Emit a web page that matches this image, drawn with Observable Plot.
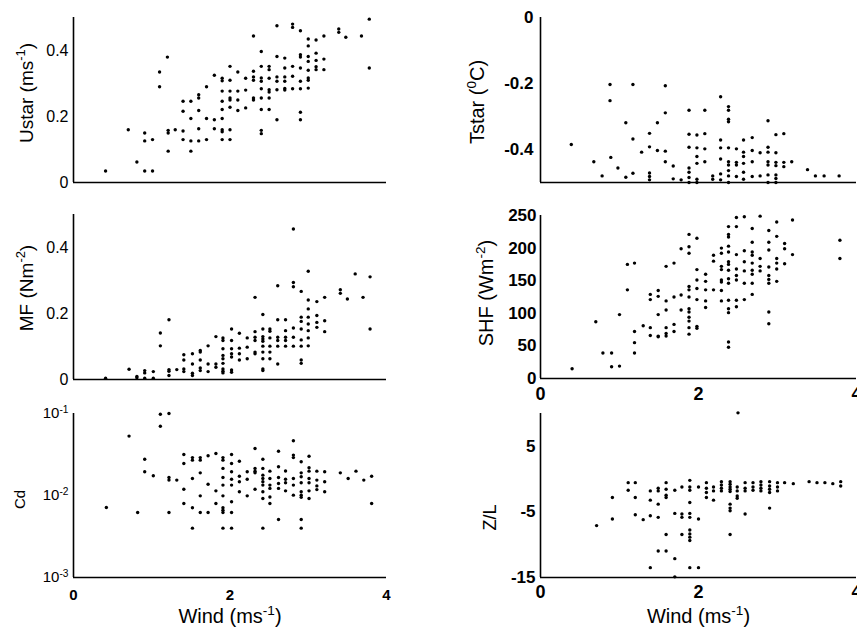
<!DOCTYPE html>
<html><head><meta charset="utf-8">
<script src="https://cdn.jsdelivr.net/npm/d3@7"></script>
<script src="https://cdn.jsdelivr.net/npm/@observablehq/plot@0.6"></script>
<style>
body{margin:0;background:#fff;}
#fig{position:relative;width:857px;height:633px;overflow:hidden;background:#fff;}
#fig svg{position:absolute;overflow:visible;}
</style></head><body><div id="fig"></div>
<script>
// ---- data: [wind (m/s), value] ----
const ustarPoints = [[0.41,0.035],[0.70,0.16],[0.81,0.062],[0.91,0.15],[0.91,0.126],[0.91,0.035],[1.01,0.13],[1.01,0.035],[1.10,0.335],[1.10,0.29],[1.20,0.38],[1.21,0.158],[1.21,0.15],[1.21,0.095],[1.30,0.16],[1.40,0.246],[1.40,0.216],[1.40,0.156],[1.40,0.13],[1.50,0.246],[1.50,0.194],[1.50,0.126],[1.50,0.095],[1.60,0.266],[1.60,0.256],[1.60,0.218],[1.60,0.163],[1.60,0.126],[1.70,0.29],[1.70,0.194],[1.70,0.13],[1.80,0.325],[1.80,0.19],[1.80,0.163],[1.90,0.316],[1.90,0.308],[1.90,0.277],[1.90,0.246],[1.90,0.221],[1.90,0.194],[1.90,0.16],[1.90,0.154],[1.90,0.13],[2.0,0.352],[2.0,0.31],[2.0,0.277],[2.0,0.256],[2.0,0.25],[2.0,0.228],[2.0,0.16],[2.0,0.13],[2.1,0.335],[2.1,0.277],[2.1,0.25],[2.1,0.218],[2.2,0.316],[2.2,0.28],[2.2,0.226],[2.3,0.444],[2.3,0.337],[2.3,0.32],[2.3,0.31],[2.3,0.256],[2.3,0.25],[2.4,0.397],[2.4,0.352],[2.4,0.317],[2.4,0.307],[2.4,0.284],[2.4,0.256],[2.4,0.221],[2.4,0.158],[2.4,0.148],[2.5,0.352],[2.5,0.342],[2.5,0.316],[2.5,0.281],[2.5,0.274],[2.5,0.256],[2.5,0.221],[2.6,0.475],[2.6,0.382],[2.6,0.32],[2.6,0.307],[2.6,0.281],[2.6,0.19],[2.7,0.377],[2.7,0.347],[2.7,0.32],[2.7,0.307],[2.7,0.285],[2.7,0.28],[2.8,0.48],[2.8,0.47],[2.8,0.352],[2.8,0.322],[2.8,0.284],[2.9,0.46],[2.9,0.387],[2.9,0.38],[2.9,0.347],[2.9,0.307],[2.9,0.284],[2.9,0.213],[2.9,0.19],[3.0,0.435],[3.0,0.414],[3.0,0.382],[3.0,0.367],[3.0,0.34],[3.0,0.317],[3.0,0.31],[3.0,0.286],[3.1,0.432],[3.1,0.392],[3.1,0.37],[3.1,0.351],[3.1,0.342],[3.2,0.444],[3.2,0.374],[3.2,0.342],[3.39,0.465],[3.39,0.455],[3.48,0.44],[3.68,0.444],[3.78,0.495],[3.78,0.347]];

const tstarPoints = [[0.39,-0.385],[0.675,-0.437],[0.78,-0.48],[0.88,-0.203],[0.88,-0.252],[0.89,-0.424],[0.98,-0.456],[1.08,-0.484],[1.08,-0.319],[1.17,-0.203],[1.17,-0.368],[1.17,-0.472],[1.28,-0.408],[1.38,-0.351],[1.38,-0.392],[1.38,-0.471],[1.38,-0.482],[1.38,-0.492],[1.48,-0.319],[1.48,-0.403],[1.58,-0.207],[1.58,-0.289],[1.58,-0.405],[1.58,-0.437],[1.68,-0.45],[1.68,-0.489],[1.78,-0.492],[1.88,-0.281],[1.88,-0.354],[1.88,-0.393],[1.88,-0.456],[1.88,-0.469],[1.88,-0.485],[1.88,-0.5],[1.98,-0.356],[1.98,-0.395],[1.98,-0.421],[1.98,-0.442],[1.98,-0.49],[1.98,-0.5],[2.08,-0.281],[2.08,-0.352],[2.08,-0.398],[2.08,-0.437],[2.18,-0.48],[2.18,-0.49],[2.28,-0.24],[2.28,-0.371],[2.28,-0.395],[2.28,-0.429],[2.28,-0.474],[2.28,-0.492],[2.38,-0.27],[2.38,-0.281],[2.38,-0.308],[2.38,-0.316],[2.38,-0.395],[2.38,-0.437],[2.38,-0.447],[2.38,-0.464],[2.38,-0.48],[2.38,-0.5],[2.48,-0.398],[2.48,-0.439],[2.48,-0.447],[2.48,-0.482],[2.57,-0.371],[2.57,-0.408],[2.57,-0.421],[2.57,-0.442],[2.57,-0.469],[2.57,-0.49],[2.68,-0.364],[2.68,-0.403],[2.68,-0.437],[2.68,-0.482],[2.78,-0.41],[2.78,-0.48],[2.88,-0.313],[2.88,-0.393],[2.88,-0.408],[2.88,-0.437],[2.88,-0.447],[2.88,-0.477],[2.88,-0.5],[2.98,-0.355],[2.98,-0.41],[2.98,-0.439],[2.98,-0.449],[2.98,-0.477],[2.98,-0.488],[2.98,-0.5],[3.08,-0.352],[3.08,-0.439],[3.08,-0.452],[3.18,-0.437],[3.38,-0.461],[3.48,-0.48],[3.59,-0.48],[3.78,-0.48]];

const mfPoints = [[0.41,0.004],[0.71,0.031],[0.81,0.009],[0.81,0.005],[0.91,0.027],[0.91,0.02],[0.91,0.004],[1.02,0.024],[1.02,0.004],[1.11,0.141],[1.11,0.102],[1.22,0.181],[1.22,0.03],[1.22,0.025],[1.22,0.012],[1.32,0.03],[1.41,0.075],[1.41,0.059],[1.41,0.032],[1.41,0.024],[1.52,0.078],[1.52,0.047],[1.52,0.019],[1.52,0.012],[1.62,0.088],[1.62,0.083],[1.62,0.059],[1.62,0.035],[1.62,0.027],[1.72,0.102],[1.72,0.047],[1.72,0.024],[1.82,0.13],[1.82,0.047],[1.82,0.037],[1.91,0.126],[1.91,0.118],[1.91,0.093],[1.91,0.073],[1.91,0.063],[1.91,0.049],[1.91,0.032],[1.91,0.025],[1.91,0.02],[2.02,0.153],[2.02,0.118],[2.02,0.093],[2.02,0.078],[2.02,0.068],[2.02,0.029],[2.02,0.022],[2.12,0.14],[2.12,0.095],[2.12,0.078],[2.12,0.059],[2.22,0.126],[2.22,0.098],[2.22,0.063],[2.32,0.249],[2.32,0.145],[2.32,0.128],[2.32,0.118],[2.32,0.083],[2.32,0.078],[2.42,0.197],[2.42,0.153],[2.42,0.13],[2.42,0.123],[2.42,0.116],[2.42,0.101],[2.42,0.083],[2.42,0.063],[2.42,0.032],[2.42,0.027],[2.51,0.153],[2.51,0.146],[2.51,0.126],[2.51,0.101],[2.51,0.083],[2.51,0.063],[2.61,0.284],[2.61,0.181],[2.61,0.128],[2.61,0.118],[2.61,0.101],[2.61,0.047],[2.71,0.181],[2.71,0.148],[2.71,0.128],[2.71,0.118],[2.71,0.101],[2.81,0.456],[2.81,0.294],[2.81,0.281],[2.81,0.156],[2.81,0.128],[2.81,0.101],[2.91,0.267],[2.91,0.189],[2.91,0.176],[2.91,0.153],[2.91,0.12],[2.91,0.101],[2.91,0.059],[2.91,0.049],[3.0,0.328],[3.0,0.241],[3.0,0.214],[3.0,0.189],[3.0,0.168],[3.0,0.148],[3.0,0.126],[3.0,0.102],[3.11,0.236],[3.11,0.194],[3.11,0.173],[3.11,0.158],[3.21,0.249],[3.21,0.178],[3.21,0.145],[3.41,0.272],[3.41,0.261],[3.5,0.244],[3.6,0.32],[3.7,0.249],[3.79,0.311],[3.79,0.153]];

const shfPoints = [[0.40,15],[0.70,87],[0.79,39],[0.90,39],[0.90,18],[1.0,19],[1.0,98],[1.10,136],[1.10,175],[1.19,177],[1.19,72],[1.19,55],[1.19,39],[1.30,81],[1.39,129],[1.39,121],[1.39,78],[1.39,66],[1.49,135],[1.49,126],[1.49,98],[1.49,65],[1.49,64],[1.59,172],[1.59,119],[1.59,105],[1.59,78],[1.59,69],[1.59,65],[1.69,177],[1.69,125],[1.69,83],[1.69,72],[1.78,199],[1.78,128],[1.78,105],[1.88,221],[1.88,202],[1.88,192],[1.88,141],[1.88,136],[1.88,125],[1.88,107],[1.88,102],[1.88,94],[1.88,88],[1.88,78],[1.88,68],[1.98,215],[1.98,167],[1.98,151],[1.98,138],[1.98,121],[1.98,80],[1.98,77],[2.09,160],[2.09,149],[2.09,136],[2.09,119],[2.09,109],[2.19,136],[2.19,189],[2.19,180],[2.29,200],[2.29,192],[2.29,172],[2.29,167],[2.29,151],[2.29,148],[2.29,135],[2.29,119],[2.38,233],[2.38,221],[2.38,217],[2.38,203],[2.38,194],[2.38,179],[2.38,175],[2.38,166],[2.38,153],[2.38,146],[2.38,120],[2.38,107],[2.38,101],[2.38,56],[2.38,48],[2.48,247],[2.48,233],[2.48,190],[2.48,168],[2.48,158],[2.48,151],[2.48,120],[2.48,110],[2.58,248],[2.58,196],[2.58,179],[2.58,165],[2.58,146],[2.58,121],[2.68,230],[2.68,209],[2.68,194],[2.68,189],[2.68,177],[2.68,166],[2.68,160],[2.68,146],[2.68,129],[2.78,249],[2.78,184],[2.78,172],[2.78,165],[2.89,227],[2.89,209],[2.89,197],[2.89,171],[2.89,158],[2.89,152],[2.89,146],[2.89,102],[2.89,84],[2.99,240],[2.99,218],[2.99,184],[2.99,177],[2.99,168],[2.99,149],[3.09,207],[3.09,199],[3.09,176],[3.19,243],[3.19,190],[3.79,212],[3.79,184]];

const cdPoints = [[0.42,0.00715],[0.71,0.053],[0.82,0.0062],[0.91,0.0277],[0.91,0.0195],[1.02,0.0174],[1.11,0.098],[1.11,0.070],[1.22,0.1],[1.22,0.0166],[1.22,0.0154],[1.22,0.0062],[1.32,0.0154],[1.41,0.0316],[1.41,0.0246],[1.41,0.0119],[1.41,0.008],[1.52,0.029],[1.52,0.027],[1.52,0.0161],[1.52,0.0071],[1.52,0.004],[1.62,0.029],[1.62,0.027],[1.62,0.0189],[1.62,0.0099],[1.62,0.0062],[1.72,0.0305],[1.72,0.0137],[1.72,0.0062],[1.82,0.0325],[1.82,0.0114],[1.82,0.008],[1.91,0.029],[1.91,0.027],[1.91,0.0214],[1.91,0.0166],[1.91,0.0134],[1.91,0.0099],[1.91,0.0071],[1.91,0.0066],[1.91,0.0062],[1.91,0.004],[2.02,0.0316],[2.02,0.0246],[2.02,0.0195],[2.02,0.0158],[2.02,0.0134],[2.02,0.0084],[2.02,0.0062],[2.02,0.004],[2.12,0.0262],[2.12,0.0172],[2.12,0.0147],[2.12,0.0111],[2.22,0.0195],[2.22,0.0158],[2.22,0.0099],[2.32,0.0374],[2.32,0.0214],[2.32,0.0198],[2.32,0.0189],[2.32,0.0119],[2.42,0.0277],[2.42,0.0214],[2.42,0.0177],[2.42,0.0161],[2.42,0.0147],[2.42,0.0134],[2.42,0.0111],[2.42,0.0092],[2.42,0.004],[2.51,0.0198],[2.51,0.0161],[2.51,0.0134],[2.51,0.0122],[2.51,0.0096],[2.51,0.008],[2.62,0.0347],[2.62,0.0224],[2.62,0.0166],[2.62,0.014],[2.62,0.0122],[2.62,0.0051],[2.71,0.0199],[2.71,0.0158],[2.71,0.0143],[2.71,0.0114],[2.81,0.0465],[2.81,0.0311],[2.81,0.029],[2.81,0.0161],[2.81,0.0134],[2.81,0.0101],[2.91,0.0258],[2.91,0.0189],[2.91,0.0169],[2.91,0.0143],[2.91,0.0111],[2.91,0.0101],[2.91,0.0095],[2.91,0.0051],[2.91,0.004],[3.01,0.0301],[3.01,0.0218],[3.01,0.0198],[3.01,0.0161],[3.01,0.0143],[3.01,0.0114],[3.01,0.0092],[3.11,0.0198],[3.11,0.0154],[3.11,0.0131],[3.11,0.0118],[3.21,0.0195],[3.21,0.0147],[3.21,0.0111],[3.41,0.0189],[3.51,0.0161],[3.61,0.0198],[3.71,0.0154],[3.81,0.0172],[3.81,0.008]];

const zlPoints = [[0.71,-7.09],[0.91,-2.81],[0.91,-6.08],[1.11,-0.54],[1.11,-1.7],[1.20,-0.54],[1.20,-2.81],[1.20,-5.43],[1.30,-6.18],[1.39,-1.8],[1.39,-3.21],[1.39,-5.58],[1.39,-13.5],[1.49,-1.4],[1.49,-1.8],[1.49,-3.82],[1.49,-5.83],[1.49,-10.97],[1.59,-0.54],[1.59,-1.55],[1.59,-2.46],[1.59,-2.81],[1.59,-8.45],[1.59,-10.97],[1.70,-1.7],[1.70,-5.23],[1.70,-12.13],[1.70,-14.9],[1.79,-1.2],[1.79,-5.33],[1.79,-5.83],[1.79,-8.45],[1.89,-0.19],[1.89,-1.2],[1.89,-1.7],[1.89,-3.56],[1.89,-5.23],[1.89,-5.83],[1.89,-7.75],[1.89,-8.35],[1.89,-8.85],[1.89,-9.36],[1.89,-13.5],[2.0,-1.2],[2.0,-6.08],[2.0,-13.5],[2.1,-0.54],[2.1,-1.4],[2.1,-2.05],[2.1,-2.81],[2.19,-1.2],[2.19,-1.8],[2.19,-3.21],[2.29,-0.39],[2.29,-0.89],[2.29,-1.4],[2.29,-1.8],[2.4,-0.39],[2.4,-0.79],[2.4,-1.2],[2.4,-1.55],[2.4,-1.9],[2.4,-3.82],[2.4,-4.42],[2.4,-4.82],[2.4,-8.45],[2.49,-1.2],[2.49,-1.8],[2.49,-2.56],[2.49,-2.91],[2.5,10.1],[2.59,-0.54],[2.59,-1.4],[2.59,-1.8],[2.59,-5.33],[2.69,-0.54],[2.69,-1.2],[2.69,-1.7],[2.79,-0.39],[2.79,-0.89],[2.79,-1.4],[2.79,-1.8],[2.9,-0.39],[2.9,-1.05],[2.9,-1.55],[2.9,-2.05],[2.9,-4.42],[3.0,-0.54],[3.0,-1.2],[3.0,-1.8],[3.09,-0.54],[3.2,-0.69],[3.4,-0.39],[3.5,-0.54],[3.6,-0.54],[3.7,-0.69],[3.8,-0.39],[3.8,-1.05]];

// ---- ticks and labels ----
const windTicks = [0, 2, 4];
const ustarTicks = [0, 0.2, 0.4];
const tstarTicks = [-0.4, -0.2, 0];
const mfTicks = [0, 0.2, 0.4];
const shfTicks = [0, 50, 100, 150, 200, 250];
const cdTicks = [0.001, 0.01, 0.1];
const zlTicks = [-15, -5, 5];
const labels = {
  ustar: "Ustar (ms^{-1})", tstar: "Tstar (^{0}C)", mf: "MF (Nm^{-2})",
  shf: "SHF (Wm^{-2})", cd: "Cd", zl: "Z/L", wind: "Wind (ms^{-1})"
};

// ---- rendering ----
const FONT = '"Liberation Sans", Arial, Helvetica, sans-serif';
const NS = "http://www.w3.org/2000/svg";
const fig = document.getElementById("fig");

function supify(svg) {
  svg.querySelectorAll("text").forEach(t => {
    const s = t.textContent;
    if (!s.includes("^{")) return;
    t.textContent = "";
    const re = /\^\{([^}]*)\}/g;
    let last = 0, m, shifted = false;
    const add = (str, sup) => {
      const ts = document.createElementNS(NS, "tspan");
      ts.textContent = str;
      if (sup) { ts.setAttribute("dy", "-0.55em"); ts.setAttribute("font-size", "68%"); }
      else if (shifted) { ts.setAttribute("dy", "0.374em"); }
      t.appendChild(ts);
      shifted = sup;
    };
    while ((m = re.exec(s))) {
      if (m.index > last) add(s.slice(last, m.index), false);
      add(m[1], true);
      last = re.lastIndex;
    }
    if (last < s.length) add(s.slice(last), false);
  });
}

function panel(o) {
  const [y0, y1] = o.yDomain;
  const marks = [
    Plot.ruleX([0], {y1: y0, y2: y1, stroke: "#000", strokeWidth: 1.6}),
    Plot.ruleY([y0], {x1: 0, x2: 4, stroke: "#000", strokeWidth: 1.6}),
    Plot.dot(o.points, {x: d => d[0], y: d => d[1], r: 1.7, fill: "#000", stroke: null}),
    Plot.axisY(o.yTicks, {tickSize: 0, tickPadding: o.yPad, tickFormat: o.yFmt,
      fontSize: o.yFont, fontWeight: o.yWeight, label: null}),
    Plot.text([o.yLabel], {frameAnchor: "left", dx: o.yLabelDx, dy: o.yLabelDy, rotate: -90,
      textAnchor: "middle", lineAnchor: "middle", fontSize: o.yLabelSize, text: d => d})
  ];
  if (o.xTicks) marks.push(Plot.axisX(o.xTicks, {tickSize: 0, tickPadding: o.xPad,
      tickFormat: d => String(d), fontSize: o.xFont, fontWeight: "bold", label: null}));
  if (o.xLabel) marks.push(Plot.text([o.xLabel], {frameAnchor: "bottom", dy: o.xLabelDy,
      textAnchor: "middle", lineAnchor: "middle", fontSize: 20, text: d => d}));
  const svg = Plot.plot({
    width: o.width, height: o.height,
    marginLeft: o.mL, marginRight: o.mR, marginTop: o.mT, marginBottom: o.mB,
    style: {fontFamily: FONT, fontSize: "16px", color: "#000", background: "transparent", overflow: "visible"},
    x: {domain: [0, 4], axis: o.xTicks ? undefined : null},
    y: {domain: o.yDomain, type: o.yType || "linear"},
    marks
  });
  supify(svg);
  svg.style.left = o.left + "px";
  svg.style.top = o.top + "px";
  fig.appendChild(svg);
}

const L = {left: 0, width: 430, mL: 73, mR: 44};
const R = {left: 430, width: 427, mL: 110, mR: 1};
const numFmt = d => String(d);

panel({...L, top: 0, height: 200, mT: 17, mB: 18, points: ustarPoints, yDomain: [0, 0.5],
  yTicks: ustarTicks, yFmt: numFmt, yPad: 5, yFont: 16, yWeight: "normal",
  yLabel: labels.ustar, yLabelDx: -47, yLabelDy: -7, yLabelSize: 19});
panel({...R, top: 0, height: 200, mT: 17, mB: 18, points: tstarPoints, yDomain: [-0.5, 0],
  yTicks: tstarTicks, yFmt: numFmt, yPad: 7, yFont: 17, yWeight: "bold",
  yLabel: labels.tstar, yLabelDx: -63, yLabelDy: 2, yLabelSize: 20});
panel({...L, top: 200, height: 200, mT: 14, mB: 21, points: mfPoints, yDomain: [0, 0.5],
  yTicks: mfTicks, yFmt: numFmt, yPad: 5, yFont: 16, yWeight: "normal",
  yLabel: labels.mf, yLabelDx: -47, yLabelDy: -9, yLabelSize: 19});
panel({...R, top: 200, height: 200, mT: 15, mB: 22, points: shfPoints, yDomain: [0, 250],
  yTicks: shfTicks, yFmt: numFmt, yPad: 4, yFont: 17, yWeight: "bold",
  yLabel: labels.shf, yLabelDx: -54, yLabelDy: -4, yLabelSize: 20,
  xTicks: windTicks, xPad: 9, xFont: 18});
panel({...L, top: 400, height: 233, mT: 13, mB: 56, points: cdPoints, yDomain: [0.001, 0.1], yType: "log",
  yTicks: cdTicks, yFmt: d => "10^{" + Math.round(Math.log10(d)) + "}", yPad: 5, yFont: 15, yWeight: "normal",
  yLabel: labels.cd, yLabelDx: -53, yLabelDy: 4, yLabelSize: 15,
  xTicks: windTicks, xPad: 12, xFont: 15, xLabel: labels.wind, xLabelDy: 39});
panel({...R, top: 400, height: 233, mT: 13, mB: 56, points: zlPoints, yDomain: [-15, 10],
  yTicks: zlTicks, yFmt: numFmt, yPad: 5, yFont: 17, yWeight: "bold",
  yLabel: labels.zl, yLabelDx: -50, yLabelDy: 22, yLabelSize: 18,
  xTicks: windTicks, xPad: 8, xFont: 18, xLabel: labels.wind, xLabelDy: 39});
</script></body></html>
